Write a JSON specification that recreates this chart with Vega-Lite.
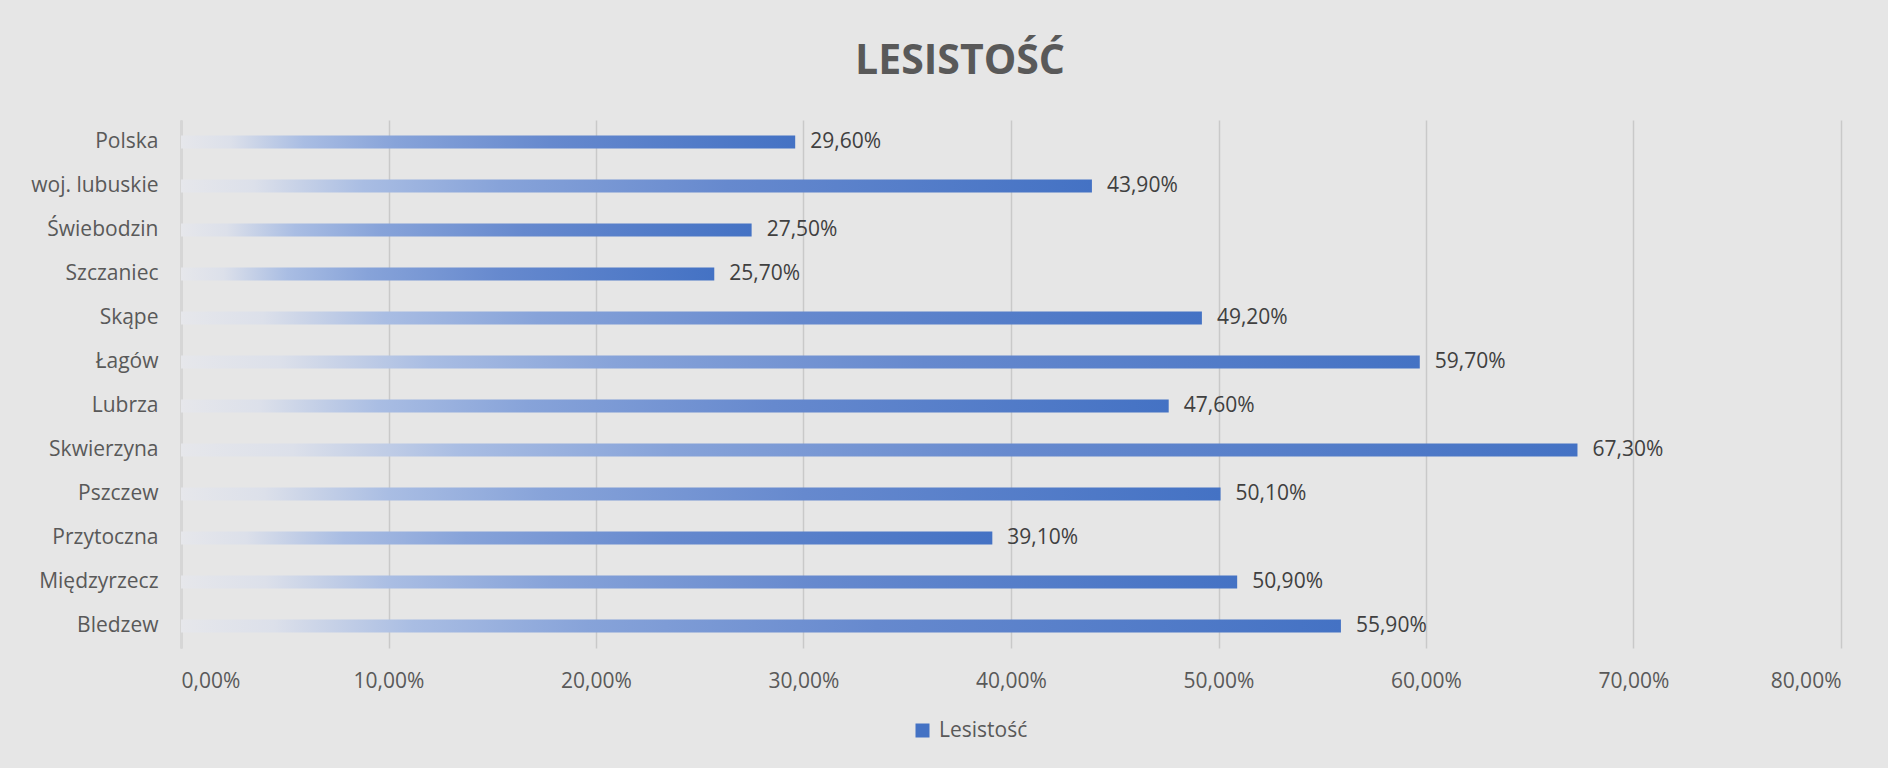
{
  "$schema": "https://vega.github.io/schema/vega-lite/v6.json",
  "width": 1660,
  "height": 528,
  "autosize": {"type": "none"},
  "padding": {"left": 181, "top": 120, "right": 47, "bottom": 120},
  "background": "#E6E6E6",
  "title": {
    "text": "LESISTOŚĆ",
    "font": "Open Sans",
    "fontSize": 41,
    "fontWeight": "bold",
    "color": "#595959",
    "anchor": "middle",
    "frame": "group",
    "dx": -51,
    "baseline": "alphabetic",
    "offset": 5
  },
  "data": {
    "values": [
      {"gmina": "Polska", "lesistosc": 0.296, "seria": "Lesistość"},
      {"gmina": "woj. lubuskie", "lesistosc": 0.439, "seria": "Lesistość"},
      {"gmina": "Świebodzin", "lesistosc": 0.275, "seria": "Lesistość"},
      {"gmina": "Szczaniec", "lesistosc": 0.257, "seria": "Lesistość"},
      {"gmina": "Skąpe", "lesistosc": 0.492, "seria": "Lesistość"},
      {"gmina": "Łagów", "lesistosc": 0.597, "seria": "Lesistość"},
      {"gmina": "Lubrza", "lesistosc": 0.476, "seria": "Lesistość"},
      {"gmina": "Skwierzyna", "lesistosc": 0.673, "seria": "Lesistość"},
      {"gmina": "Pszczew", "lesistosc": 0.501, "seria": "Lesistość"},
      {"gmina": "Przytoczna", "lesistosc": 0.391, "seria": "Lesistość"},
      {"gmina": "Międzyrzecz", "lesistosc": 0.509, "seria": "Lesistość"},
      {"gmina": "Bledzew", "lesistosc": 0.559, "seria": "Lesistość"}
    ]
  },
  "encoding": {
    "y": {
      "field": "gmina",
      "type": "nominal",
      "sort": null,
      "title": null,
      "axis": {
        "labelFont": "Open Sans",
        "labelFontSize": 21,
        "labelColor": "#595959",
        "labelPadding": 23,
        "ticks": false,
        "domain": true,
        "domainColor": "#D6D6D6",
        "domainWidth": 3,
        "grid": false
      }
    },
    "x": {
      "field": "lesistosc",
      "type": "quantitative",
      "title": null,
      "scale": {"domain": [0, 0.8], "nice": false},
      "axis": {
        "values": [0, 0.1, 0.2, 0.3, 0.4, 0.5, 0.6, 0.7, 0.8],
        "labelExpr": "replace(format(datum.value, '.2%'), '.', ',')",
        "labelFont": "Open Sans",
        "labelFontSize": 21,
        "labelColor": "#595959",
        "labelPadding": 22,
        "ticks": false,
        "domain": false,
        "grid": true,
        "gridColor": "#C9C9C9",
        "gridWidth": 1.5
      }
    }
  },
  "layer": [
    {
      "mark": {
        "type": "bar",
        "size": 13,
        "color": {
          "gradient": "linear",
          "x1": 0, "y1": 0, "x2": 1, "y2": 0,
          "stops": [
            {"offset": 0, "color": "#E6E7EB"},
            {"offset": 0.08, "color": "#DCE0EA"},
            {"offset": 0.2, "color": "#A9BDE3"},
            {"offset": 0.35, "color": "#87A3D9"},
            {"offset": 0.6, "color": "#6689CE"},
            {"offset": 1, "color": "#4472C4"}
          ]
        }
      }
    },
    {
      "mark": {
        "type": "text",
        "align": "left",
        "baseline": "middle",
        "dx": 15,
        "font": "Open Sans",
        "fontSize": 21,
        "color": "#404040"
      },
      "encoding": {
        "text": {"field": "lesistosc", "type": "quantitative", "format": ".2%"}
      }
    },
    {
      "mark": {"type": "square", "size": 0, "opacity": 1, "filled": true},
      "encoding": {
        "color": {
          "field": "seria",
          "type": "nominal",
          "scale": {"range": ["#4472C4"]},
          "legend": {
            "title": null,
            "orient": "none",
            "legendX": 731,
            "legendY": 600,
            "direction": "horizontal",
            "symbolType": "square",
            "symbolSize": 196,
            "symbolStrokeWidth": 0,
            "symbolOpacity": 1,
            "labelFont": "Open Sans",
            "labelFontSize": 21,
            "labelColor": "#595959",
            "labelOffset": 6,
            "padding": 0,
            "encode": {
              "symbols": {
                "update": {
                  "fill": {"signal": "{gradient: 'linear', x1: 0, y1: 0, x2: 1, y2: 0, stops: [{offset: 0, color: '#E6E7EB'}, {offset: 0.45, color: '#87A3D9'}, {offset: 1, color: '#4472C4'}]}"}
                }
              }
            }
          }
        }
      }
    }
  ],
  "config": {
    "view": {"stroke": null},
    "locale": {"number": {"decimal": ",", "thousands": " ", "grouping": [3], "currency": ["", " zł"]}}
  }
}
